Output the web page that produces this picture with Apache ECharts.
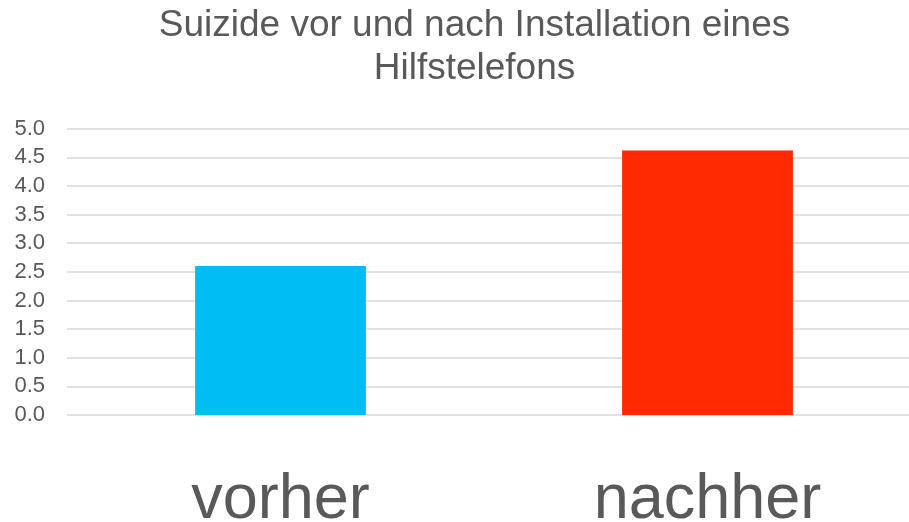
<!DOCTYPE html>
<html>
<head>
<meta charset="utf-8">
<script src="https://cdn.jsdelivr.net/npm/echarts@6/dist/echarts.min.js"></script>
<style>html,body{margin:0;padding:0;background:#fff}#c{width:909px;height:522px}</style>
</head>
<body>
<div id="c"></div>
<script>
const categories = ['vorher', 'nachher'];
const values = [2.6, 4.62];
const barColors = ['#00BEF2', '#FF2800'];
const titleLines = ['Suizide vor und nach Installation eines', 'Hilfstelefons'];

const chart = echarts.init(document.getElementById('c'), null, {renderer: 'canvas'});
chart.setOption({
  animation: false,
  backgroundColor: '#ffffff',
  title: {
    text: titleLines.join('\n'),
    left: 469.5,
    top: -1,
    textAlign: 'center',
    textStyle: {
      fontFamily: 'Liberation Sans, Arial, sans-serif',
      fontSize: 37,
      fontWeight: 'normal',
      color: '#595959',
      lineHeight: 43
    }
  },
  grid: {left: 67, top: 128.7, width: 854, bottom: 107, containLabel: false, outerBoundsMode: 'none'},
  xAxis: {
    type: 'category',
    data: categories,
    axisLine: {show: false},
    axisTick: {show: false},
    axisLabel: {
      margin: 54,
      fontFamily: 'Liberation Sans, Arial, sans-serif',
      fontSize: 63,
      color: '#595959'
    }
  },
  yAxis: {
    type: 'value',
    min: 0,
    max: 5,
    interval: 0.5,
    axisLine: {show: false},
    axisTick: {show: false},
    splitLine: {lineStyle: {color: '#D9D9D9', width: 1.5}},
    axisLabel: {
      margin: 22,
      fontFamily: 'Liberation Sans, Arial, sans-serif',
      fontSize: 22,
      color: '#595959',
      formatter: v => v.toFixed(1)
    }
  },
  series: [{
    type: 'bar',
    barWidth: '40%',
    data: values.map((v, i) => ({value: v, itemStyle: {color: barColors[i]}}))
  }]
});
</script>
</body>
</html>
